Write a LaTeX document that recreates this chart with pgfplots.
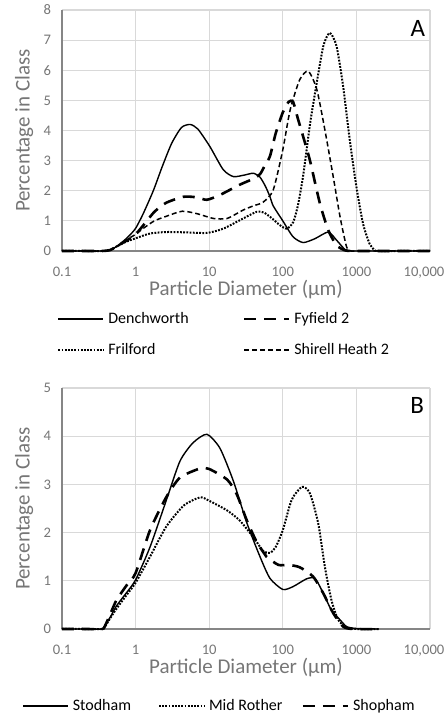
\documentclass[border=0pt]{standalone}
\usepackage{fontspec}
\setmainfont{Carlito}
\usepackage{pgfplots}
\pgfplotsset{compat=1.18}

\definecolor{txtgray}{RGB}{118,118,118}
\definecolor{gridgray}{RGB}{217,217,217}
\definecolor{axisgray}{RGB}{134,134,134}

\pgfplotsset{legend image code/.code={\draw[#1] (0pt,0pt) -- (22.5pt,0pt);}}
\pgfplotsset{
  psd/.style={
    scale only axis, width=184pt, height=120.5pt,
    xmin=0.1, xmax=10000, ymin=0,
    xtick={0.1,1,10,100,1000,10000},
    xticklabels={0.1,1,10,100,1000,{\hspace*{-6pt}10,000}},
    axis lines*=left,
    axis line style={axisgray, line width=0.75pt},
    major tick length=0pt, minor tick length=0pt,
    xmajorgrids, ymajorgrids,
    grid style={gridgray, line width=0.6pt},
    clip=false,
    /pgf/number format/assume math mode=true,
    tick label style={font=\fontsize{7.3}{8}\selectfont, text=txtgray},
    xticklabel style={yshift=-4.6pt},
    yticklabel style={xshift=-2pt},
    xlabel={Particle Diameter (µm)},
    ylabel={Percentage in Class},
    label style={font=\fontsize{10.5}{12}\selectfont, text=txtgray},
    xlabel style={at={(axis description cs:0.5,0)}, anchor=center, yshift=-19.5pt},
    ylabel style={at={(axis description cs:-0.103,0.5)}, anchor=center},
    legend style={draw=none, fill=none, inner sep=0pt,
      font=\fontsize{8}{9}\selectfont, row sep=4.5pt},
    legend cell align=left,
  },
  solidln/.style={black, line width=0.7pt, smooth, tension=0.4},
  longdash/.style={black, line width=1.3pt, dash pattern=on 6pt off 4pt, smooth, tension=0.4},
  shortdash/.style={black, line width=0.75pt, dash pattern=on 2.5pt off 1.5pt, smooth, tension=0.4},
  dotln/.style={black, line width=1pt, dash pattern=on 0.9pt off 0.7pt, smooth, tension=0.4},
}

\begin{document}
\begin{tikzpicture}

%% Panel A
\begin{axis}[xmode=log, psd, at={(0pt,189pt)}, anchor=south west,
  ymax=8, ytick={0,1,...,8},
  legend columns=2,
  legend style={at={(axis description cs:-0.0136,-0.235)}, anchor=north west,
    /tikz/column 2/.style={column sep=25pt}},
  ]
\addplot[solidln] coordinates {
  (0.1,0) (0.2,0) (0.35,0) (0.45,0.02) (0.55,0.15) (0.7,0.35) (0.85,0.55)
  (1,0.75) (1.27,1.24) (1.74,2.0) (2.3,2.8) (3.1,3.58) (4.2,4.1) (5.5,4.2)
  (7,4.05) (10.2,3.47) (15.5,2.7) (21.3,2.47) (30,2.52) (39.8,2.58) (49,2.45)
  (58,2.15) (67,1.8) (74,1.5) (100,1.0) (138,0.47) (189,0.28) (274,0.41)
  (415,0.63) (537,0.36) (700,0.05) (850,0) (1000,0) (3000,0) (10000,0)};
\addlegendentry{Denchworth}
\addplot[longdash] coordinates {
  (0.1,0) (0.2,0) (0.35,0) (0.45,0.03) (0.55,0.15) (0.7,0.3) (0.85,0.42)
  (1,0.55) (1.27,0.85) (1.8,1.3) (2.6,1.6) (4.5,1.8) (6.8,1.78) (9.3,1.7)
  (14,1.86) (26,2.2) (40,2.4) (49,2.55) (56,2.8) (67,3.15) (80,3.9)
  (100,4.6) (120,4.95) (138,4.95) (160,4.4) (189,3.8) (234,3.0) (319,1.58)
  (415,0.69) (537,0.19) (700,0.02) (850,0) (1000,0) (3000,0) (10000,0)};
\addlegendentry{Fyfield 2}
\addplot[dotln] coordinates {
  (0.1,0) (0.2,0) (0.35,0) (0.45,0.03) (0.55,0.15) (0.7,0.28) (0.85,0.36)
  (1,0.42) (1.57,0.58) (2.6,0.63) (4.5,0.62) (9.3,0.6) (15.5,0.74) (26,1.02)
  (44,1.3) (56,1.27) (74,1.05) (91,0.86) (113,0.74) (138,0.95) (160,1.5)
  (189,2.5) (234,4.2) (274,5.24) (355,6.8) (436,7.24) (537,6.8) (660,5.47)
  (812,3.69) (1000,2.13) (1230,0.91) (1510,0.24) (1780,0.02) (2000,0)
  (4000,0) (10000,0)};
\addlegendentry{Frilford}
\addplot[shortdash] coordinates {
  (0.1,0) (0.2,0) (0.35,0) (0.45,0.03) (0.55,0.13) (0.7,0.3) (0.85,0.45)
  (1,0.55) (1.27,0.75) (1.8,1.0) (2.6,1.15) (4.3,1.32) (6.8,1.24) (11.4,1.08)
  (17.5,1.08) (29,1.36) (40,1.5) (54,1.62) (74,2.02) (100,3.36) (126,4.69)
  (170,5.69) (222,5.97) (290,5.36) (373,4.02) (484,2.47) (600,1.13)
  (737,0.13) (850,0) (1000,0) (3000,0) (10000,0)};
\addlegendentry{Shirell Heath 2}
\node[font=\fontsize{12.5}{14}\selectfont, anchor=center]
  at (axis description cs:0.967,0.925) {A};
\end{axis}

%% Panel B
\begin{axis}[xmode=log, psd, at={(0pt,0pt)}, anchor=south west,
  ymax=5, ytick={0,1,...,5},
  legend columns=3,
  legend style={at={(axis description cs:-0.1087,-0.2725)}, anchor=north west,
    /tikz/column 2/.style={column sep=11.5pt},
    /tikz/column 4/.style={column sep=7.5pt}},
  ]
\addplot[solidln] coordinates {
  (0.1,0) (0.2,0) (0.35,0) (0.37,0.04) (0.45,0.24) (0.55,0.48) (0.75,0.75)
  (1,1.02) (1.57,1.7) (2.6,2.66) (4,3.48) (6,3.86) (9.3,4.04) (14,3.75)
  (21.3,3.07) (32.5,2.2) (49,1.5) (67,1.05) (100,0.82) (138,0.88) (210,1.04)
  (274,1.05) (355,0.74) (458,0.39) (600,0.19) (737,0.05) (1000,0.01)
  (2000,0)};
\addlegendentry{Stodham}
\addplot[dotln] coordinates {
  (0.1,0) (0.2,0) (0.35,0) (0.38,0.04) (0.45,0.22) (0.55,0.42) (0.75,0.7)
  (1,0.96) (1.57,1.5) (2.6,2.12) (4.5,2.56) (7.5,2.73) (10,2.66) (17.5,2.46)
  (26,2.25) (40,1.9) (54,1.62) (67,1.58) (80,1.7) (100,2.05) (132,2.68)
  (183,2.95) (234,2.81) (303,2.19) (373,1.29) (458,0.6) (566,0.19)
  (737,0.03) (1000,0) (2000,0)};
\addlegendentry{Mid Rother}
\addplot[longdash] coordinates {
  (0.1,0) (0.2,0) (0.35,0) (0.38,0.05) (0.45,0.3) (0.55,0.6) (0.75,0.9)
  (1,1.16) (1.57,2.05) (2.6,2.73) (4,3.14) (7.5,3.33) (10,3.32) (17.5,3.1)
  (23.6,2.8) (32.5,2.25) (44,1.81) (54,1.6) (60,1.5) (87,1.33) (120,1.33)
  (170,1.28) (257,1.09) (355,0.74) (484,0.33) (660,0.05) (900,0) (2000,0)};
\addlegendentry{Shopham}
\node[font=\fontsize{12.5}{14}\selectfont, anchor=center]
  at (axis description cs:0.965,0.929) {B};
\end{axis}

\pgfresetboundingbox
\path[use as bounding box] (-31pt,-43pt) rectangle (192pt,314.5pt);
\end{tikzpicture}
\end{document}
